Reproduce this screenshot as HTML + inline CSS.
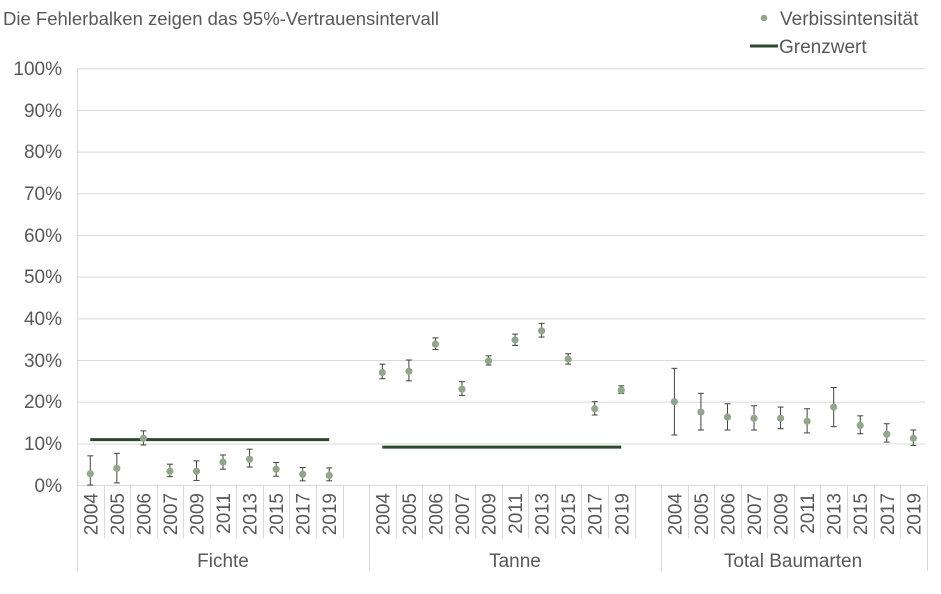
<!DOCTYPE html>
<html><head><meta charset="utf-8"><style>
body{margin:0;background:#fff}
svg{display:block;font-family:"Liberation Sans",Arial,sans-serif;fill:#595959}
</style></head><body>
<svg id="s" width="941" height="594" viewBox="0 0 941 594">
<text x="3" y="25" font-size="18.5">Die Fehlerbalken zeigen das 95%-Vertrauensintervall</text>
<circle cx="764" cy="18" r="3.3" fill="#8fa88a"/>
<text x="780" y="25" font-size="19">Verbissintensität</text>
<line x1="750" y1="46" x2="778" y2="46" stroke="#2d4a2f" stroke-width="3"/>
<text x="779" y="53" font-size="19">Grenzwert</text>
<g id="grid" stroke="#d9d9d9" stroke-width="1"></g>
<g font-size="19" text-anchor="end">
<text x="62" y="75">100%</text><text x="62" y="117">90%</text><text x="62" y="158">80%</text>
<text x="62" y="200">70%</text><text x="62" y="242">60%</text><text x="62" y="283">50%</text>
<text x="62" y="325">40%</text><text x="62" y="367">30%</text><text x="62" y="408">20%</text>
<text x="62" y="450">10%</text><text x="62" y="492">0%</text>
</g>
<g font-size="19" text-anchor="middle">
<text x="223" y="567">Fichte</text><text x="515" y="567">Tanne</text><text x="793" y="567">Total Baumarten</text>
</g>
<g id="yl" font-size="19" text-anchor="end"></g>
<g id="d"></g>
</svg>
<script>
var s=document.getElementById('s'),g=document.getElementById('grid'),d=document.getElementById('d'),yl=document.getElementById('yl');
var ns='http://www.w3.org/2000/svg';
function el(p,t,a){var e=document.createElementNS(ns,t);for(var k in a)e.setAttribute(k,a[k]);p.appendChild(e);return e;}
function Y(v){return 485-v*4.167;}
var W=26.55;function X(i){return 77+W*(i+0.5);}
for(var i=1;i<=10;i++)el(g,'line',{x1:77,x2:925,y1:Y(i*10)+.5,y2:Y(i*10)+.5});
el(g,'line',{x1:77,x2:925,y1:485.5,y2:485.5});
el(g,'line',{x1:77.5,x2:77.5,y1:69,y2:485});
for(var i=0;i<=32;i++){var x=Math.round(77+W*i)+.5;var big=(i==0||i==11||i==22||i==32);
 el(g,'line',{x1:x,x2:x,y1:485,y2:big?571:538});}
var yrs=['2004','2005','2006','2007','2009','2011','2013','2015','2017','2019'];
[0,11,22].forEach(function(o){yrs.forEach(function(y,j){var x=X(o+j)+7;
 var t=el(yl,'text',{x:x,y:493,transform:'rotate(-90 '+x+' 493)'});t.textContent=y;});});
el(d,'line',{x1:X(0),x2:X(9),y1:Y(10.9),y2:Y(10.9),stroke:'#2d4a2f','stroke-width':3});
el(d,'line',{x1:X(11),x2:X(20),y1:Y(9.1),y2:Y(9.1),stroke:'#2d4a2f','stroke-width':3});
var data=[
[[2.7,0,7],[4,0.5,7.6],[11.2,9.6,13],[3.3,2,5],[3.3,1.1,5.8],[5.5,3.8,7.2],[6.2,4.3,8.6],[3.8,2.1,5.4],[2.6,1,4.2],[2.3,1,4.1]],
[[27,25.5,29],[27.3,25,30],[33.8,32.5,35.3],[23,21.5,24.8],[29.8,28.8,31],[34.8,33.5,36.2],[37,35.5,38.8],[30.2,29,31.5],[18.3,16.8,20],[22.8,22,23.8]],
[[20,12,28],[17.5,13.2,22],[16.3,13.2,19.5],[16,13.2,19],[16,13.5,18.7],[15.3,12.5,18.3],[18.7,14,23.4],[14.3,12.3,16.6],[12.2,10.3,14.7],[11.2,9.5,13.2]]];
data.forEach(function(gr,k){gr.forEach(function(p,j){var x=X(k*11+j);
 var a={stroke:'#404040','stroke-width':1};
 el(d,'line',Object.assign({x1:x,x2:x,y1:Y(p[1]),y2:Y(p[2])},a));
 el(d,'line',Object.assign({x1:x-3,x2:x+3,y1:Y(p[1]),y2:Y(p[1])},a));
 el(d,'line',Object.assign({x1:x-3,x2:x+3,y1:Y(p[2]),y2:Y(p[2])},a));
 el(d,'circle',{cx:x,cy:Y(p[0]),r:3.6,fill:'#8fa88a'});});});
</script>
</body></html>
